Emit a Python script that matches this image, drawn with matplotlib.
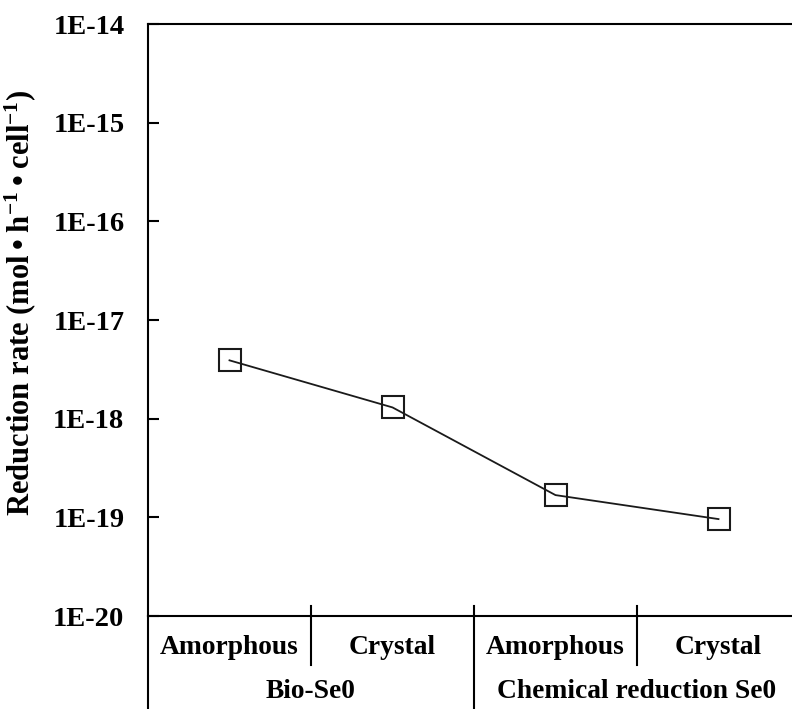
import matplotlib
matplotlib.use("Agg")
import matplotlib.pyplot as plt
from matplotlib.transforms import blended_transform_factory

plt.rcParams['font.family'] = ['Liberation Serif', 'DejaVu Serif']
plt.rcParams['font.weight'] = 'bold'
plt.rcParams['mathtext.fontset'] = 'custom'
plt.rcParams['mathtext.rm'] = 'Liberation Serif:bold'
plt.rcParams['mathtext.it'] = 'Liberation Serif:bold'
plt.rcParams['mathtext.bf'] = 'Liberation Serif:bold'

inner_labels = ["Amorphous", "Crystal", "Amorphous", "Crystal"]
outer_labels = ["Bio-Se0", "Chemical reduction Se0"]
rates = [3.9e-18, 1.3e-18, 1.68e-19, 9.6e-20]
ytick_vals = [1e-20, 1e-19, 1e-18, 1e-17, 1e-16, 1e-15, 1e-14]
ytick_labels = ["1E-20", "1E-19", "1E-18", "1E-17", "1E-16", "1E-15", "1E-14"]

W, H = 792, 709
fig = plt.figure(figsize=(W / 100, H / 100), dpi=100)
left, right, top, bottom = 148, 800, 24, 616
ax = fig.add_axes([left / W, (H - bottom) / H, (right - left) / W, (bottom - top) / H])

x = list(range(len(rates)))
ax.plot(x, rates, color='#1a1a1a', lw=1.3, marker='s', ms=15.5,
        mfc='none', mec='#1a1a1a', mew=1.5)
ax.set_yscale('log')
ax.set_ylim(1e-20, 1e-14)
ax.set_xlim(-0.5, 3.5)
ax.set_yticks(ytick_vals)
ax.set_yticklabels(ytick_labels)
ax.minorticks_off()
ax.tick_params(axis='y', direction='in', length=8, width=1.5, pad=17, labelsize=20.5)
ax.set_xticks([])
ax.spines['right'].set_visible(False)
for s in ['left', 'top', 'bottom']:
    ax.spines[s].set_linewidth(1.5)

ax.set_ylabel("Reduction rate (mol\u2009•\u2009h$^{-1}$\u2009•\u2009cell$^{-1}$)", fontsize=22, fontweight='bold')
ax.yaxis.set_label_coords((38 - left) / (right - left), (bottom - 303) / (bottom - top))

tr = blended_transform_factory(ax.transData, ax.transAxes)
span = bottom - top
y_top = 10 / span
y_inner = -(665 - bottom) / span
y_outer = -(H - bottom) / span
for xs in [0.5, 2.5]:
    ax.plot([xs, xs], [y_top, y_inner], transform=tr, color='black', lw=1.5, clip_on=False)
ax.plot([1.5, 1.5], [y_top, y_outer], transform=tr, color='black', lw=1.5, clip_on=False)
ax.plot([-0.5, -0.5], [0, y_outer], transform=tr, color='black', lw=1.5, clip_on=False)

y_in_lab = -(648 - bottom) / span
y_out_lab = -(692 - bottom) / span
for i, lab in enumerate(inner_labels):
    ax.text(i, y_in_lab, lab, transform=tr, ha='center', va='center', fontsize=19.8, fontweight='bold')
for j, lab in enumerate(outer_labels):
    ax.text(2 * j + 0.5, y_out_lab, lab, transform=tr, ha='center', va='center', fontsize=19.8, fontweight='bold')

fig.savefig("out.png", dpi=100)
